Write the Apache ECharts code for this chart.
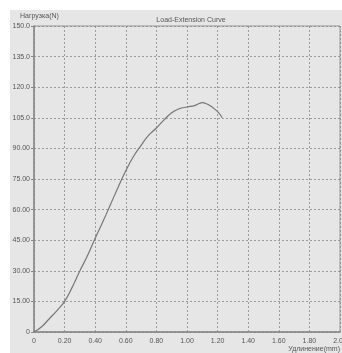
<!DOCTYPE html>
<html>
<head>
<meta charset="utf-8">
<script src="https://cdn.jsdelivr.net/npm/echarts@6/dist/echarts.min.js"></script>
<style>
  html, body { margin: 0; padding: 0; background: #fff; }
  #chart { position: absolute; left: 10px; top: 10px; width: 332px; height: 343px; background: #e6e6e6; }
</style>
</head>
<body>
<div id="chart"></div>
<script>
var titleText = 'Load-Extension Curve';
var yName = 'Нагрузка(N)';
var xName = 'Удлинение(mm)';

var extension = [0, 0.05, 0.10, 0.15, 0.20, 0.25, 0.30, 0.35, 0.40, 0.45, 0.50, 0.55, 0.60, 0.65,
  0.70, 0.75, 0.80, 0.85, 0.90, 0.95, 1.00, 1.05, 1.08, 1.10, 1.13, 1.16, 1.20, 1.23];
var load = [0, 2.6, 6.5, 10.5, 15, 22, 30, 37.5, 46, 54, 62.5, 71, 79, 86,
  91.5, 96.5, 100, 104, 107.5, 109.5, 110.3, 111, 112, 112.4, 111.8, 110.5, 108, 105];

var curve = extension.map(function(x, i){ return [x, load[i]]; });

var chart = echarts.init(document.getElementById('chart'));
var font = 'Liberation Sans, Arial, sans-serif';

var option = {
  animation: false,
  title: {
    text: titleText,
    left: 176, top: 2, textAlign: 'center',
    textStyle: { color: '#555', fontSize: 7, fontWeight: 'normal', fontFamily: font }
  },
  grid: {
    left: 24, right: 2, top: 16, bottom: 21,
    outerBoundsMode: 'none', containLabel: false,
    show: true, borderColor: '#999', borderWidth: 1, backgroundColor: 'transparent'
  },
  xAxis: {
    type: 'value', min: 0, max: 2, interval: 0.2,
    name: xName, nameLocation: 'end', nameGap: 0,
    nameTextStyle: { color: '#555', fontSize: 7, fontFamily: font, align: 'right', verticalAlign: 'top', padding: [14, 0, 0, 0] },
    axisLine: { lineStyle: { color: '#888', width: 1.5 } },
    axisTick: { show: false },
    axisLabel: {
      color: '#555', fontSize: 7, margin: 6, fontFamily: font,
      formatter: function(v){ return v === 0 ? '0' : v.toFixed(2); }
    },
    splitLine: { lineStyle: { color: '#888', type: [2, 2], width: 0.8 } }
  },
  yAxis: {
    type: 'value', min: 0, max: 150, interval: 15,
    name: yName, nameLocation: 'end', nameGap: 6,
    nameTextStyle: { color: '#555', fontSize: 7, fontFamily: font, align: 'left', padding: [0, 0, 0, -14] },
    axisLine: { show: true, lineStyle: { color: '#888', width: 1.5 } },
    axisTick: { show: true, length: 3, lineStyle: { color: '#888' } },
    axisLabel: {
      color: '#555', fontSize: 7, margin: 4, fontFamily: font,
      formatter: function(v){ return v === 0 ? '0' : (v >= 100 ? v.toFixed(1) : v.toFixed(2)); }
    },
    splitLine: { lineStyle: { color: '#888', type: [2, 2], width: 0.8 } }
  },
  series: [{
    type: 'line',
    data: curve,
    smooth: true,
    showSymbol: false,
    lineStyle: { color: '#777', width: 1.2 }
  }]
};
chart.setOption(option);
</script>
</body>
</html>
